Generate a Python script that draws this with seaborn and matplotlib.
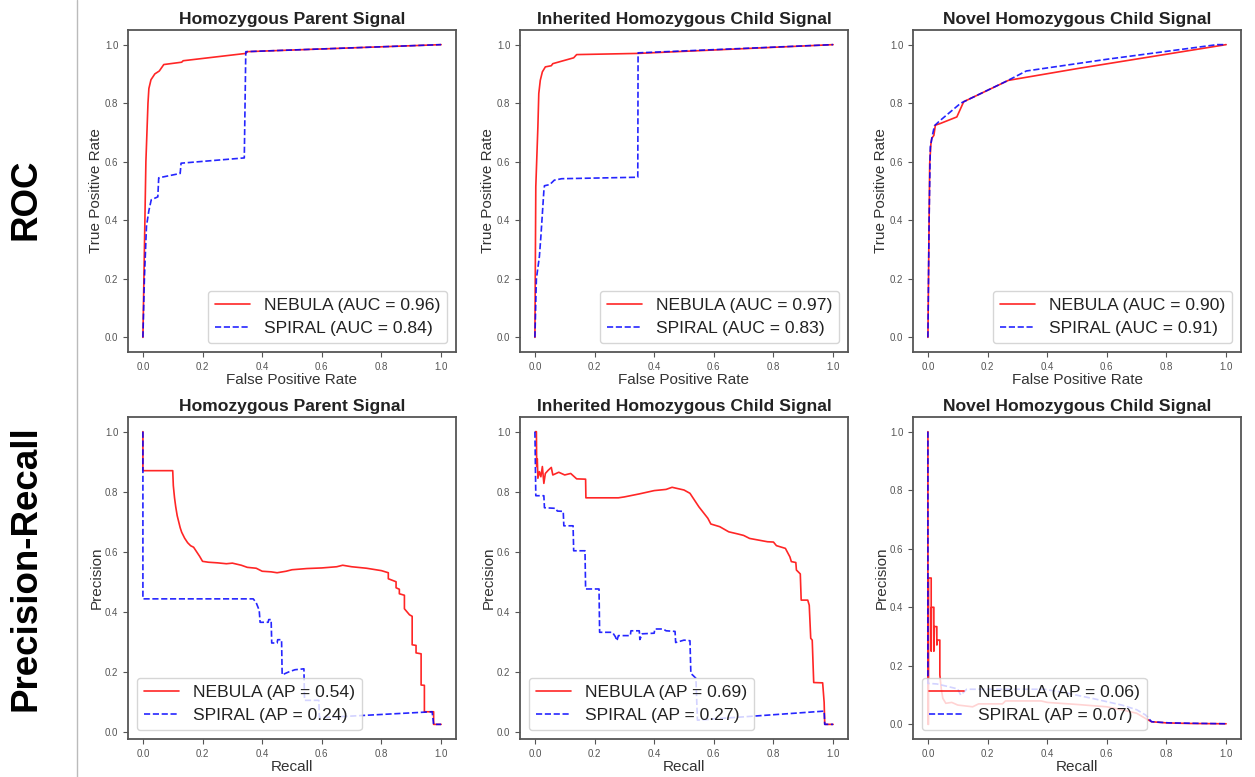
import pandas as pd
import matplotlib.pyplot as plt
import seaborn as sns
from matplotlib.lines import Line2D

sns.set_theme(style='ticks')
plt.rcParams['font.family'] = ['Liberation Sans', 'DejaVu Sans']

# panel titles and scores
titles = ['Homozygous Parent Signal', 'Inherited Homozygous Child Signal', 'Novel Homozygous Child Signal']
auc_nebula = [0.96, 0.97, 0.90]
auc_spiral = [0.84, 0.83, 0.91]
ap_nebula = [0.54, 0.69, 0.06]
ap_spiral = [0.24, 0.27, 0.07]

# ROC curves, (fpr, tpr)
roc_parent_nebula = [(0, 0), (0.005, 0.3), (0.01, 0.6), (0.017, 0.8), (0.02, 0.85), (0.027, 0.88),
                     (0.04, 0.9), (0.055, 0.91), (0.07, 0.932), (0.13, 0.94), (0.135, 0.945),
                     (0.345, 0.97), (0.35, 0.976), (1.0, 1.0)]
roc_parent_spiral = [(0, 0), (0.005, 0.2), (0.012, 0.38), (0.02, 0.433), (0.028, 0.47), (0.05, 0.48),
                     (0.053, 0.545), (0.125, 0.56), (0.128, 0.595), (0.34, 0.613), (0.345, 0.976),
                     (1.0, 1.0)]
roc_inherited_nebula = [(0, 0), (0.003, 0.515), (0.01, 0.72), (0.013, 0.833), (0.018, 0.878),
                        (0.025, 0.907), (0.035, 0.924), (0.055, 0.928), (0.06, 0.935), (0.13, 0.955),
                        (0.14, 0.966), (0.345, 0.97), (1.0, 1.0)]
roc_inherited_spiral = [(0, 0), (0.005, 0.2), (0.015, 0.276), (0.02, 0.344), (0.03, 0.5), (0.032, 0.518),
                        (0.05, 0.522), (0.065, 0.537), (0.09, 0.542), (0.345, 0.547), (0.346, 0.972),
                        (1.0, 1.0)]
roc_novel_nebula = [(0, 0), (0.003, 0.3), (0.006, 0.594), (0.01, 0.66), (0.013, 0.68), (0.02, 0.69),
                    (0.025, 0.725), (0.04, 0.73), (0.097, 0.753), (0.12, 0.805), (0.27, 0.878),
                    (0.5, 0.918), (1.0, 1.0)]
roc_novel_spiral = [(0, 0), (0.004, 0.4), (0.008, 0.65), (0.015, 0.69), (0.022, 0.723), (0.04, 0.74),
                    (0.11, 0.8), (0.265, 0.876), (0.33, 0.91), (0.6, 0.95), (0.97, 1.0), (1.0, 1.0)]

# precision-recall curves, (recall, precision)
pr_parent_nebula = [(0, 1.0), (0, 0.87), (0.1, 0.87), (0.102, 0.82), (0.106, 0.78), (0.11, 0.75),
                    (0.115, 0.72), (0.12, 0.7), (0.125, 0.68), (0.13, 0.665), (0.14, 0.645), (0.15, 0.63),
                    (0.16, 0.62), (0.17, 0.615), (0.18, 0.6), (0.19, 0.585), (0.2, 0.568), (0.22, 0.565),
                    (0.25, 0.563), (0.28, 0.56), (0.3, 0.562), (0.33, 0.555), (0.35, 0.548), (0.38, 0.545),
                    (0.4, 0.535), (0.43, 0.533), (0.45, 0.53), (0.48, 0.535), (0.5, 0.54), (0.55, 0.544),
                    (0.6, 0.546), (0.65, 0.55), (0.67, 0.555), (0.7, 0.55), (0.75, 0.545), (0.8, 0.537),
                    (0.823, 0.53), (0.823, 0.51), (0.849, 0.5), (0.849, 0.48), (0.86, 0.475), (0.86, 0.46),
                    (0.877, 0.455), (0.877, 0.41), (0.894, 0.39), (0.903, 0.385), (0.903, 0.29),
                    (0.916, 0.288), (0.916, 0.263), (0.933, 0.26), (0.933, 0.156), (0.944, 0.155),
                    (0.944, 0.067), (0.975, 0.067), (0.975, 0.025), (1.0, 0.025)]
pr_parent_spiral = [(0, 1.0), (0, 0.443), (0.37, 0.443), (0.38, 0.43), (0.39, 0.405), (0.393, 0.365),
                    (0.42, 0.365), (0.422, 0.374), (0.43, 0.374), (0.432, 0.296), (0.45, 0.296),
                    (0.452, 0.307), (0.465, 0.307), (0.467, 0.19), (0.49, 0.2), (0.51, 0.207), (0.54, 0.21),
                    (0.542, 0.105), (0.59, 0.105), (0.592, 0.048), (0.65, 0.05), (0.97, 0.067),
                    (0.975, 0.025), (1.0, 0.025)]
pr_inherited_nebula = [(0.002, 1.0), (0.005, 1.0), (0.006, 0.884), (0.008, 0.91), (0.01, 0.845),
                       (0.015, 0.867), (0.02, 0.85), (0.025, 0.884), (0.03, 0.828), (0.035, 0.861),
                       (0.045, 0.872), (0.055, 0.881), (0.06, 0.856), (0.08, 0.865), (0.1, 0.856),
                       (0.12, 0.861), (0.14, 0.843), (0.17, 0.842), (0.171, 0.78), (0.28, 0.78),
                       (0.3, 0.783), (0.35, 0.793), (0.4, 0.804), (0.44, 0.808), (0.46, 0.815),
                       (0.5, 0.806), (0.52, 0.795), (0.55, 0.75), (0.58, 0.712), (0.59, 0.693),
                       (0.62, 0.684), (0.65, 0.667), (0.68, 0.66), (0.7, 0.655), (0.72, 0.645),
                       (0.78, 0.634), (0.8, 0.633), (0.81, 0.621), (0.84, 0.612), (0.855, 0.584),
                       (0.86, 0.568), (0.875, 0.565), (0.877, 0.54), (0.89, 0.527), (0.893, 0.44),
                       (0.915, 0.44), (0.92, 0.423), (0.925, 0.313), (0.93, 0.307), (0.935, 0.166),
                       (0.965, 0.165), (0.97, 0.1), (0.972, 0.027), (1.0, 0.027)]
pr_inherited_spiral = [(0, 1.0), (0.003, 0.787), (0.03, 0.787), (0.032, 0.747), (0.07, 0.745),
                       (0.075, 0.736), (0.095, 0.735), (0.097, 0.687), (0.128, 0.687), (0.13, 0.604),
                       (0.168, 0.604), (0.17, 0.477), (0.215, 0.477), (0.217, 0.333), (0.26, 0.333),
                       (0.27, 0.318), (0.275, 0.305), (0.28, 0.322), (0.32, 0.322), (0.322, 0.338),
                       (0.35, 0.338), (0.352, 0.309), (0.36, 0.328), (0.4, 0.33), (0.402, 0.344),
                       (0.43, 0.344), (0.44, 0.338), (0.47, 0.336), (0.472, 0.299), (0.5, 0.307),
                       (0.52, 0.305), (0.523, 0.196), (0.53, 0.19), (0.54, 0.18), (0.545, 0.041),
                       (0.6, 0.045), (0.97, 0.071), (0.972, 0.027), (1.0, 0.027)]
pr_novel_nebula = [(0, 1.0), (0, 0.0), (0.002, 0.0), (0.002, 0.5), (0.011, 0.5), (0.011, 0.25),
                   (0.012, 0.4), (0.02, 0.4), (0.02, 0.25), (0.022, 0.334), (0.03, 0.334), (0.03, 0.271),
                   (0.032, 0.288), (0.04, 0.288), (0.04, 0.169), (0.045, 0.12), (0.05, 0.089),
                   (0.06, 0.072), (0.08, 0.075), (0.1, 0.066), (0.15, 0.06), (0.17, 0.07), (0.25, 0.07),
                   (0.26, 0.08), (0.38, 0.08), (0.4, 0.075), (0.5, 0.068), (0.6, 0.06), (0.65, 0.05),
                   (0.7, 0.038), (0.73, 0.02), (0.75, 0.009), (0.8, 0.005), (0.88, 0.003), (1.0, 0.002)]
pr_novel_spiral = [(0, 1.0), (0, 0.14), (0.03, 0.138), (0.06, 0.131), (0.1, 0.121), (0.11, 0.1),
                   (0.13, 0.12), (0.39, 0.12), (0.45, 0.11), (0.55, 0.089), (0.65, 0.066), (0.7, 0.05),
                   (0.73, 0.032), (0.75, 0.009), (0.81, 0.005), (1.0, 0.002)]

roc_curves = [(roc_parent_nebula, roc_parent_spiral), (roc_inherited_nebula, roc_inherited_spiral),
              (roc_novel_nebula, roc_novel_spiral)]
pr_curves = [(pr_parent_nebula, pr_parent_spiral), (pr_inherited_nebula, pr_inherited_spiral),
             (pr_novel_nebula, pr_novel_spiral)]

W, H = 1255, 777
fig = plt.figure(figsize=(W / 100, H / 100), dpi=100)


def draw_panel(ax, nebula, spiral, nebula_label, spiral_label, title, xlabel, ylabel, loc):
    neb = pd.DataFrame(nebula, columns=['x', 'y'])
    spi = pd.DataFrame(spiral, columns=['x', 'y'])
    sns.lineplot(data=neb, x='x', y='y', sort=False, estimator=None, color='red', lw=1.2,
                 alpha=0.85, label=nebula_label, ax=ax)
    sns.lineplot(data=spi, x='x', y='y', sort=False, estimator=None, color='blue', lw=1.2,
                 linestyle='--', alpha=0.85, label=spiral_label, ax=ax)
    ax.set_title(title, fontsize=12.6, fontweight='bold', pad=4, color='#222222')
    ax.set_xlabel(xlabel, fontsize=11, labelpad=1, color='#333333')
    ax.set_ylabel(ylabel, fontsize=11, labelpad=1, color='#333333')
    ax.set_xticks([0, 0.2, 0.4, 0.6, 0.8, 1.0])
    ax.set_yticks([0, 0.2, 0.4, 0.6, 0.8, 1.0])
    ax.tick_params(labelsize=7, colors='#555555', length=3.5, width=0.8)
    for sp in ax.spines.values():
        sp.set_color('#555555')
        sp.set_linewidth(1.3)
    leg = ax.legend(loc=loc, fontsize=12.6, labelspacing=0.45, framealpha=0.8, fancybox=True)
    for t in leg.get_texts():
        t.set_color('#222222')


lefts = [128, 520, 913]
aw, ah = 328 / W, 322 / H
for i in range(3):
    ax = fig.add_axes([lefts[i] / W, (H - 352) / H, aw, ah])
    neb, spi = roc_curves[i]
    draw_panel(ax, neb, spi, f'NEBULA (AUC = {auc_nebula[i]:.2f})', f'SPIRAL (AUC = {auc_spiral[i]:.2f})',
               titles[i], 'False Positive Rate', 'True Positive Rate', 'lower right')

    ax = fig.add_axes([lefts[i] / W, (H - 739) / H, aw, ah])
    neb, spi = pr_curves[i]
    draw_panel(ax, neb, spi, f'NEBULA (AP = {ap_nebula[i]:.2f})', f'SPIRAL (AP = {ap_spiral[i]:.2f})',
               titles[i], 'Recall', 'Precision', 'lower left')

# row labels and separator
fig.add_artist(Line2D([77 / W, 77 / W], [0, 1], color='#bbbbbb', lw=1))
fig.text(26 / W, 1 - 199 / H, 'ROC', rotation=90, ha='center', va='center',
         fontsize=26.5, fontweight='bold', color='black')
fig.text(26 / W, 1 - 568 / H, 'Precision-Recall', rotation=90, ha='center', va='center',
         fontsize=26.5, fontweight='bold', color='black')

fig.savefig('out.png', dpi=100)
